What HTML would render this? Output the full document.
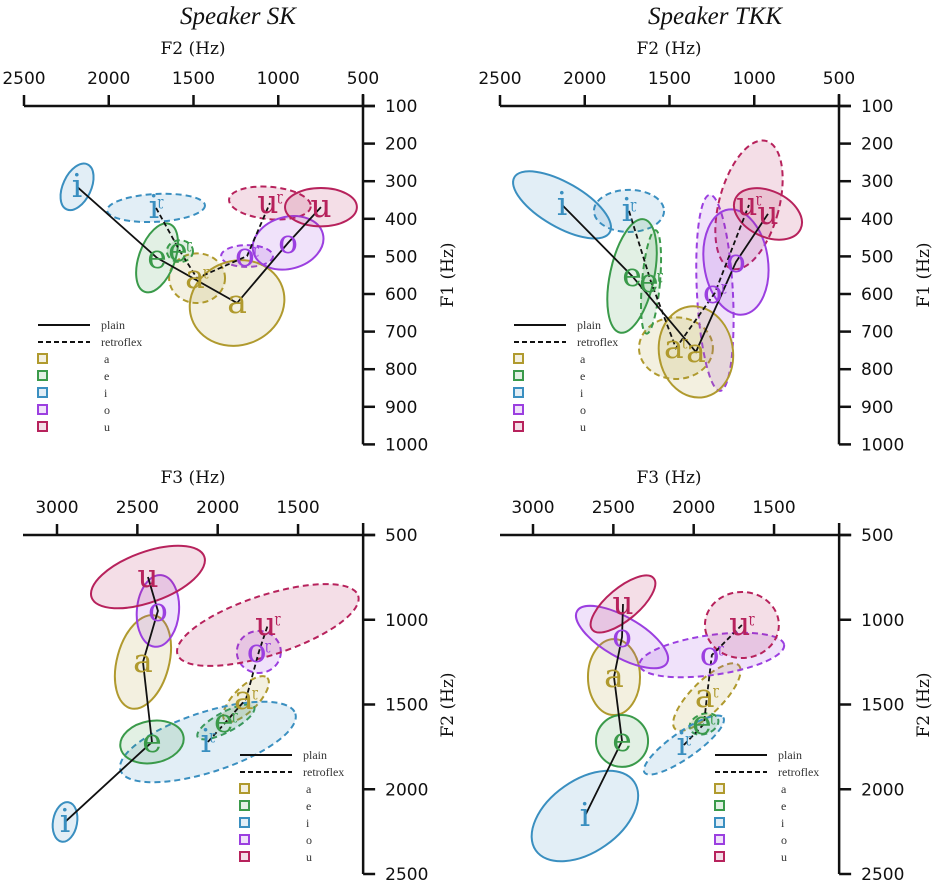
<!DOCTYPE html>
<html><head><meta charset="utf-8"><style>
html,body{margin:0;padding:0;background:#fff;}
svg{display:block;}
.tick{font-family:"DejaVu Sans",sans-serif;font-size:17px;fill:#111;}
.ttl{font-family:"DejaVu Serif","Liberation Serif",serif;font-size:17px;fill:#111;}
.spk{font-family:"Liberation Serif",serif;font-style:italic;font-size:25px;fill:#111;}
.vl{font-family:"DejaVu Serif","Liberation Serif",serif;font-size:33px;}
.lg{font-family:"Liberation Serif",serif;font-size:12px;fill:#333;}
</style></head><body>
<svg id="chart" width="934" height="884" viewBox="0 0 934 884" xmlns="http://www.w3.org/2000/svg">
<text class="spk" x="238" y="24" text-anchor="middle">Speaker SK</text>
<text class="spk" x="715" y="24" text-anchor="middle">Speaker TKK</text>
</svg>
<script>
const vowels=['a','e','i','o','u'];
const vowelColors=['#b09a2e','#3a9a4a','#3a8fc0','#9b3fe0','#b7225c'];
const lineOrder=[2,1,0,3,4];
// Speaker SK, F2 vs F1
const skPlainF2=[1243,1715,2187,942,748];
const skPlainF1=[624,504,315,464,369];
const skPlainRx=[283,106,83,212,212];
const skPlainRy=[112,96,66,69,51];
const skPlainRot=[-20,20,25,-15,0];
const skRetroF2=[1479,1580,1721,1184,1049];
const skRetroF1=[558,486,371,499,358];
const skRetroRx=[165,77,289,153,242];
const skRetroRy=[66,29,37,29,43];
const skRetroRot=[0,0,-3,0,5];
// Speaker TKK, F2 vs F1
const tkPlainF2=[1344,1721,2134,1108,919];
const tkPlainF1=[754,552,363,515,387];
const tkPlainRx=[218,130,325,189,212];
const tkPlainRy=[122,154,59,141,61];
const tkPlainRot=[-10,12,30,-8,25];
const tkRetroF2=[1462,1609,1739,1232,1031];
const tkRetroF1=[744,568,379,597,363];
const tkRetroRx=[218,53,207,106,177];
const tkRetroRy=[82,138,56,261,176];
const tkRetroRot=[0,5,0,-3,15];
// Speaker SK, F3 vs F2
const skPlainF3=[2465,2409,2950,2372,2434];
const skPlainF2b=[1249,1721,2193,948,748];
const skPlainRx3=[162,199,75,131,373];
const skPlainRy3=[283,124,118,212,148];
const skPlainRot3=[15,-10,10,5,-20];
const skRetroF3=[1824,1949,2061,1744,1688];
const skRetroF2b=[1468,1603,1721,1190,1031];
const skRetroRx3=[187,199,572,137,591];
const skRetroRy3=[71,59,177,124,177];
const skRetroRot3=[-45,-28,-18,0,-18];
// Speaker TKK, F3 vs F2
const tkPlainF3=[2496,2446,2677,2446,2440];
const tkPlainF2b=[1338,1715,2158,1102,907];
const tkPlainRx3=[162,162,373,323,249];
const tkPlainRy3=[224,153,212,118,94];
const tkPlainRot3=[0,0,-35,30,-40];
const tkRetroF3=[1918,1936,2061,1887,1700];
const tkRetroF2b=[1456,1615,1739,1208,1031];
const tkRetroRx3=[280,93,299,454,230];
const tkRetroRy3=[94,59,77,118,195];
const tkRetroRot3=[-45,-20,-35,-8,0];
const xTicksF2=[2500,2000,1500,1000,500];
const yTicksF1=[100,200,300,400,500,600,700,800,900,1000];
const xTicksF3=[3000,2500,2000,1500];
const yTicksF2=[500,1000,1500,2000,2500];

const NS='http://www.w3.org/2000/svg';
const svg=document.getElementById('chart');
function mk(tag,attrs,parent){const e=document.createElementNS(NS,tag);for(const k in attrs)e.setAttribute(k,attrs[k]);(parent||svg).appendChild(e);return e;}

function panel(p){
  const g=mk('g',{});
  
  
  const X=v=>p.x0+(p.xMax-v)*p.kx;
  const Y=v=>p.y0+(v-p.yMin)*p.ky;
  const axisX=X(p.xEnd), axisY=p.y0;
  const ha=mk('line',{x1:p.axLeft,y1:axisY,x2:axisX+12,y2:axisY,stroke:'#111','stroke-width':2.5},g);
  
  
  const yBottom=Y(p.yTicks[p.yTicks.length-1]);
  const va=mk('line',{x1:axisX,y1:axisY-12,x2:axisX,y2:yBottom,stroke:'#111','stroke-width':2.5},g);
  
  
  p.xTicks.forEach(t=>{
    mk('line',{x1:X(t),y1:axisY,x2:X(t),y2:axisY-11,stroke:'#111','stroke-width':2.5},g);
    const tx=mk('text',{class:'tick',x:X(t),y:axisY-22,'text-anchor':'middle'},g);
    tx.textContent=t;
    
    
  });
  p.yTicks.forEach(t=>{
    mk('line',{x1:axisX,y1:Y(t),x2:axisX+12,y2:Y(t),stroke:'#111','stroke-width':2.5},g);
    const tx=mk('text',{class:'tick',x:axisX+22,y:Y(t)+6},g);
    tx.textContent=t;
    
    
  });
  const xt=mk('text',{class:'ttl',x:p.xTitleX,y:p.xTitleY,'text-anchor':'middle'},g);
  xt.textContent=p.xTitle;
  
  
  const yt=mk('text',{class:'ttl',x:0,y:0,'text-anchor':'middle',transform:`translate(${axisX+90},${p.yTitleY}) rotate(-90)`},g);
  yt.textContent=p.yTitle;
  
  
  const sets=[p.retro,p.plain];
  sets.forEach(s=>{
    vowels.forEach((v,i)=>{
      const cx=X(s.x[i]),cy=Y(s.y[i]);
      const el=mk('ellipse',{cx:cx,cy:cy,rx:s.rx[i]*p.kx,ry:s.ry[i]*p.ky,transform:`rotate(${s.rot[i]} ${cx} ${cy})`,
        fill:vowelColors[i],'fill-opacity':0.15,stroke:vowelColors[i],'stroke-width':2,'stroke-dasharray':s.dash?'6 4':'none'},g);
      
      
    });
  });
  sets.forEach(s=>{
    const pts=lineOrder.map(i=>X(s.x[i])+','+Y(s.y[i])).join(' ');
    const pl=mk('polyline',{points:pts,fill:'none',stroke:'#111','stroke-width':1.8,'stroke-dasharray':s.dash?'5 3':'none'},g);
    
    
  });
  sets.forEach(s=>{
    vowels.forEach((v,i)=>{
      const t=mk('text',{class:'vl',x:X(s.x[i]),y:Y(s.y[i])+10,'text-anchor':'middle',fill:vowelColors[i]},g);
      t.textContent=v;
      if(s.dash){const h=mk('tspan',{'font-size':'13','dy':'-12','dx':'-2'},t);h.textContent='\u027D';}
      
      
    });
  });
  const lg=mk('g',{},g);
  
  
  const lx=p.legX, ly=p.legY;
  mk('line',{x1:lx,y1:ly,x2:lx+52,y2:ly,stroke:'#111','stroke-width':2},lg);
  mk('text',{class:'lg',x:lx+63,y:ly+4},lg).textContent='plain';
  mk('line',{x1:lx,y1:ly+17,x2:lx+52,y2:ly+17,stroke:'#111','stroke-width':2,'stroke-dasharray':'5 3'},lg);
  mk('text',{class:'lg',x:lx+63,y:ly+21},lg).textContent='retroflex';
  vowels.forEach((v,i)=>{
    const yy=ly+34+i*17;
    const r=mk('rect',{x:lx,y:yy-5,width:9,height:9,fill:vowelColors[i],'fill-opacity':0.15,stroke:vowelColors[i],'stroke-width':2},lg);
    
    
    mk('text',{class:'lg',x:lx+66,y:yy+4},lg).textContent=v;
  });
}

panel({name:'panel-sk-f2-f1',x0:24,xMax:2500,kx:0.1695,xEnd:500,y0:106,yMin:100,ky:0.376,axLeft:24,
  xTicks:xTicksF2,yTicks:yTicksF1,xTitle:'F2 (Hz)',xTitleX:193,xTitleY:54,yTitle:'F1 (Hz)',yTitleY:275,
  plain:{x:skPlainF2,y:skPlainF1,rx:skPlainRx,ry:skPlainRy,rot:skPlainRot,dash:false},
  retro:{x:skRetroF2,y:skRetroF1,rx:skRetroRx,ry:skRetroRy,rot:skRetroRot,dash:true},legX:38,legY:325});
panel({name:'panel-tkk-f2-f1',x0:500,xMax:2500,kx:0.1695,xEnd:500,y0:106,yMin:100,ky:0.376,axLeft:500,
  xTicks:xTicksF2,yTicks:yTicksF1,xTitle:'F2 (Hz)',xTitleX:669,xTitleY:54,yTitle:'F1 (Hz)',yTitleY:275,
  plain:{x:tkPlainF2,y:tkPlainF1,rx:tkPlainRx,ry:tkPlainRy,rot:tkPlainRot,dash:false},
  retro:{x:tkRetroF2,y:tkRetroF1,rx:tkRetroRx,ry:tkRetroRy,rot:tkRetroRot,dash:true},legX:514,legY:325});
panel({name:'panel-sk-f3-f2',x0:57,xMax:3000,kx:0.1607,xEnd:1095,y0:535,yMin:500,ky:0.1695,axLeft:23,
  xTicks:xTicksF3,yTicks:yTicksF2,xTitle:'F3 (Hz)',xTitleX:193,xTitleY:483,yTitle:'F2 (Hz)',yTitleY:705,
  plain:{x:skPlainF3,y:skPlainF2b,rx:skPlainRx3,ry:skPlainRy3,rot:skPlainRot3,dash:false},
  retro:{x:skRetroF3,y:skRetroF2b,rx:skRetroRx3,ry:skRetroRy3,rot:skRetroRot3,dash:true},legX:240,legY:755});
panel({name:'panel-tkk-f3-f2',x0:533,xMax:3000,kx:0.1607,xEnd:1095,y0:535,yMin:500,ky:0.1695,axLeft:500,
  xTicks:xTicksF3,yTicks:yTicksF2,xTitle:'F3 (Hz)',xTitleX:669,xTitleY:483,yTitle:'F2 (Hz)',yTitleY:705,
  plain:{x:tkPlainF3,y:tkPlainF2b,rx:tkPlainRx3,ry:tkPlainRy3,rot:tkPlainRot3,dash:false},
  retro:{x:tkRetroF3,y:tkRetroF2b,rx:tkRetroRx3,ry:tkRetroRy3,rot:tkRetroRot3,dash:true},legX:715,legY:755});
</script>
</body></html>
